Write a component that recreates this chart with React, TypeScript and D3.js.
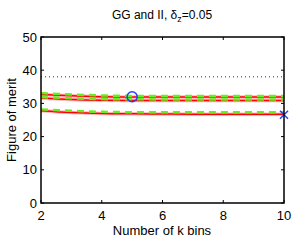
import React, { useRef, useEffect } from 'react';
import * as d3 from 'd3';

const kBins = [2, 3, 4, 5, 6, 7, 8, 9, 10];
const redUpper = [32.7, 32.3, 32.0, 31.95, 31.9, 31.9, 31.9, 31.9, 31.9];
const redMiddle = [31.6, 31.15, 30.95, 30.9, 30.9, 30.9, 30.9, 30.9, 30.9];
const redLower = [27.8, 27.25, 26.95, 26.85, 26.8, 26.75, 26.75, 26.7, 26.7];
const greenUpper = [33.1, 32.7, 32.4, 32.25, 32.2, 32.2, 32.2, 32.2, 32.2];
const greenMiddle = [31.9, 31.55, 31.3, 31.25, 31.2, 31.2, 31.2, 31.2, 31.2];
const greenLower = [28.2, 27.75, 27.45, 27.35, 27.3, 27.3, 27.3, 27.3, 27.3];
const referenceLevel = 38;
const circlePoint = { k: 5, v: 32.0 };
const crossPoint = { k: 10, v: 26.6 };
const xTicks = [2, 4, 6, 8, 10];
const yTicks = [0, 10, 20, 30, 40, 50];

const W = 300;
const H = 240;
const margin = { top: 37, right: 16, bottom: 37, left: 41 };

const App: React.FC = () => {
  const svgRef = useRef<SVGSVGElement>(null);

  useEffect(() => {
    if (!svgRef.current) return;
    const svg = d3.select(svgRef.current);
    svg.selectAll('*').remove();

    const innerW = W - margin.left - margin.right;
    const innerH = H - margin.top - margin.bottom;
    const font = 'Liberation Sans, Arial, sans-serif';

    const x = d3.scaleLinear().domain([2, 10]).range([0, innerW]);
    const y = d3.scaleLinear().domain([0, 50]).range([innerH, 0]);

    const g = svg.append('g').attr('transform', `translate(${margin.left},${margin.top})`);

    const line = d3.line<number>().x((_, i) => x(kBins[i])).y((d) => y(d)).curve(d3.curveMonotoneX);

    // reference dotted line
    g.append('line')
      .attr('x1', x(2)).attr('x2', x(10))
      .attr('y1', y(referenceLevel)).attr('y2', y(referenceLevel))
      .attr('stroke', '#333').attr('stroke-width', 1).attr('stroke-dasharray', '1,3');

    // red curves with a pale halo
    [redUpper, redMiddle, redLower].forEach((s) => {
      g.append('path').datum(s).attr('d', line).attr('fill', 'none')
        .attr('stroke', '#ffb8b8').attr('stroke-width', 3.5);
      g.append('path').datum(s).attr('d', line).attr('fill', 'none')
        .attr('stroke', '#ff0000').attr('stroke-width', 1.5);
    });

    // green dashed curves
    [greenUpper, greenMiddle, greenLower].forEach((s) => {
      g.append('path').datum(s).attr('d', line).attr('fill', 'none')
        .attr('stroke', '#66ee22').attr('stroke-width', 2.5)
        .attr('stroke-dasharray', '7,5');
    });

    // markers
    g.append('circle')
      .attr('cx', x(circlePoint.k)).attr('cy', y(circlePoint.v)).attr('r', 5)
      .attr('fill', 'none').attr('stroke', '#2040ff').attr('stroke-width', 1.5);
    const cx = x(crossPoint.k);
    const cy = y(crossPoint.v);
    g.append('path')
      .attr('d', `M${cx - 4},${cy - 4}L${cx + 4},${cy + 4}M${cx - 4},${cy + 4}L${cx + 4},${cy - 4}`)
      .attr('stroke', '#2040ff').attr('stroke-width', 1.5);

    // ticks (inward, mirrored)
    const tl = 3;
    xTicks.forEach((t) => {
      g.append('line').attr('x1', x(t)).attr('x2', x(t)).attr('y1', innerH).attr('y2', innerH - tl)
        .attr('stroke', '#000');
      g.append('line').attr('x1', x(t)).attr('x2', x(t)).attr('y1', 0).attr('y2', tl)
        .attr('stroke', '#000');
      g.append('text').attr('x', x(t)).attr('y', innerH + 16.5)
        .attr('text-anchor', 'middle').attr('font-family', font).attr('font-size', 13)
        .text(String(t));
    });
    yTicks.forEach((t) => {
      g.append('line').attr('x1', 0).attr('x2', tl).attr('y1', y(t)).attr('y2', y(t))
        .attr('stroke', '#000');
      g.append('line').attr('x1', innerW).attr('x2', innerW - tl).attr('y1', y(t)).attr('y2', y(t))
        .attr('stroke', '#000');
      g.append('text').attr('x', -4).attr('y', y(t) + 4.5)
        .attr('text-anchor', 'end').attr('font-family', font).attr('font-size', 13)
        .text(String(t));
    });

    // box
    g.append('rect').attr('x', 0).attr('y', 0).attr('width', innerW).attr('height', innerH)
      .attr('fill', 'none').attr('stroke', '#000').attr('stroke-width', 1.5);

    // title
    const title = svg.append('text').attr('x', 162).attr('y', 19)
      .attr('text-anchor', 'middle').attr('font-family', font).attr('font-size', 12);
    title.append('tspan').text('GG and II, δ');
    title.append('tspan').attr('font-size', 9).attr('dy', 3).text('z');
    title.append('tspan').attr('dy', -3).text('=0.05');

    // axis labels
    svg.append('text').attr('x', 162).attr('y', 235)
      .attr('text-anchor', 'middle').attr('font-family', font).attr('font-size', 13)
      .text('Number of k bins');
    svg.append('text').attr('transform', `translate(16,${margin.top + innerH / 2}) rotate(-90)`)
      .attr('text-anchor', 'middle').attr('font-family', font).attr('font-size', 13)
      .text('Figure of merit');
  }, []);

  return (
    <svg ref={svgRef} width={W} height={H}
      style={{ position: 'absolute', left: 0, top: 0, background: '#fff' }} />
  );
};

export default App;
